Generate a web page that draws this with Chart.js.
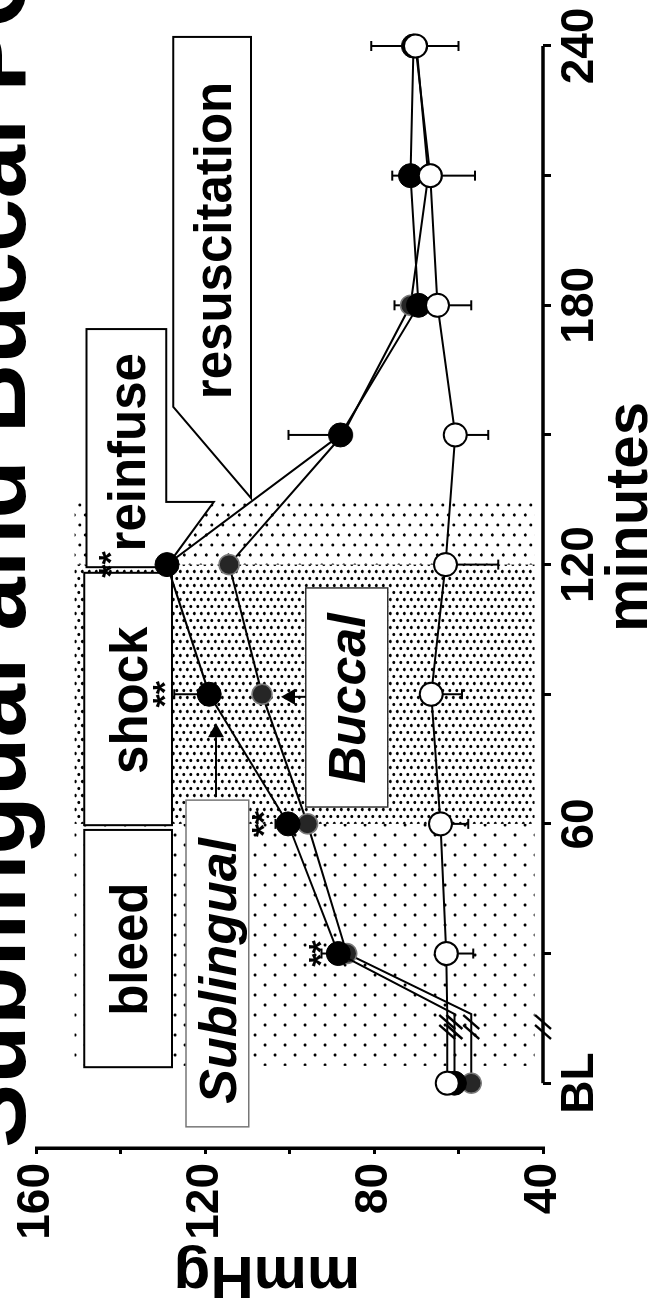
<!DOCTYPE html>
<html>
<head>
<meta charset="utf-8">
<title>Sublingual and Buccal PCO2</title>
<script src="https://cdn.jsdelivr.net/npm/chart.js@4.4.1/dist/chart.umd.min.js"></script>
<style>
  html, body { margin: 0; padding: 0; background: #fff; }
  #pagina { position: relative; width: 654px; height: 1310px; overflow: hidden; }
  /* la figura original está girada 90° a la izquierda */
  #giro { position: absolute; left: 0; top: 0; width: 1310px; height: 654px;
          transform-origin: 0 0; transform: translate(0, 1310px) rotate(-90deg); }
</style>
</head>
<body>
<div id="pagina"><div id="giro"><canvas id="grafico" width="1310" height="654"></canvas></div></div>
<script>
// Minutos de cada medición (0 = basal, "BL")
const minutos = [0, 30, 60, 90, 120, 150, 180, 210, 240];
const tickMinutos = [0, 30, 60, 90, 120, 150, 180, 210, 240];
const tickTextos = ["BL", "", "60", "", "120", "", "180", "", "240"];
const tickMmHg = [40, 60, 80, 100, 120, 140, 160];

// Series (mmHg)
const sublingual = [61, 88.5, 100.4, 119.1, 129.1, 88.0, 69.5, 71.4, 70.7];
const sublingualErr = [0, 4, 3, 8.3, 2, 12.3, 5.7, 4.3, 10];
const bucal = [57, 86.5, 95.8, 106.6, 114.4, 87.5, 71.4, 67.2, 70.0];
const abiertos = [62.7, 62.9, 64.3, 66.5, 63.1, 60.8, 65.0, 66.7, 70.2];
const abiertosErr = [3, 6.4, 6.6, 7.3, 12.5, 7.8, 8.0, 10.6, 10.2];

// Fases del protocolo (minutos)
const fases = ["bleed", "shock", "reinfuse", "resuscitation"];
const faseInicio = [4, 60, 120, 134.5];
const faseFin = [60, 120, 134.5, 240];

// Asteriscos de significancia
const sigMinutos = [30, 60, 90, 120];
const sigNivel = [94.8, 108.3, 131.7, 144.4];

const quiebre = 16;   // el trazo sale vertical desde BL hasta acá
const corteEje = 13;  // marcas "//" del eje cortado

const fuente = "'Liberation Sans', Arial, Helvetica, sans-serif";

// Armar puntos {x, y}, con el vértice del quiebre (mismo valor que BL)
function armar(valores) {
  const pts = valores.map((v, i) => ({ x: minutos[i], y: v }));
  pts.splice(1, 0, { x: quiebre, y: valores[0] });
  return pts;
}
const radio = r => ctx => (ctx.dataIndex === 1 ? 0 : r);

// Tramas de puntos para las fases
function trama(ancho, alto, puntos, r) {
  const t = document.createElement("canvas");
  t.width = ancho;
  t.height = alto;
  const g = t.getContext("2d");
  g.fillStyle = "#000";
  puntos.forEach(([a, b]) => {
    g.beginPath();
    g.arc(a, b, r, 0, Math.PI * 2);
    g.fill();
  });
  return t;
}
const tramas = [
  trama(20, 20, [[5, 5], [15, 15]], 1.6),          // bleed
  trama(14, 7, [[3.5, 1.75], [10.5, 5.25]], 1.6),  // shock
  trama(20, 11, [[5, 2.75], [15, 8.25]], 1.5)      // reinfuse
];
const sombraMmHg = [42, 151];

// Cajas de texto (en unidades de datos: minutos, mmHg)
const cajas = [
  { texto: fases[0], forma: [[3.7, 148.7], [58.6, 148.7], [58.6, 127.9], [3.7, 127.9]], centro: [31, 138.3] },
  { texto: fases[1], forma: [[59.7, 148.7], [118.1, 148.7], [118.1, 127.9], [59.7, 127.9]], centro: [88.6, 138.3] },
  { texto: fases[2], forma: [[119.4, 148.2], [174.5, 148.2], [174.5, 129.3], [134.5, 129.3], [134.5, 118.0], [119.4, 129.3]], centro: [146, 138.7] },
  { texto: fases[3], forma: [[156.5, 127.6], [242.1, 127.6], [242.1, 109.2], [135.4, 109.2]], centro: [195, 118.4] },
  { texto: "Sublingual", forma: [[-10.1, 124.6], [65.5, 124.6], [65.5, 109.7], [-10.1, 109.7]], centro: [26, 117.1], italica: true, borde: "#777" },
  { texto: "Buccal", forma: [[63.9, 96.2], [114.6, 96.2], [114.6, 76.8], [63.9, 76.8]], centro: [89, 86.5], italica: true, borde: "#333" }
];
const flechas = [
  { desde: [66.2, 117.5], hasta: [83.3, 117.5] },
  { desde: [89.4, 96.2], hasta: [89.4, 102.1] }
];

function flecha(ctx, x1, y1, x2, y2) {
  const ang = Math.atan2(y2 - y1, x2 - x1);
  const largo = 14, ancho = 8;
  const bx = x2 - largo * Math.cos(ang), by = y2 - largo * Math.sin(ang);
  ctx.beginPath();
  ctx.moveTo(x1, y1);
  ctx.lineTo(bx, by);
  ctx.stroke();
  ctx.beginPath();
  ctx.moveTo(x2, y2);
  ctx.lineTo(bx + ancho * Math.sin(ang), by - ancho * Math.cos(ang));
  ctx.lineTo(bx - ancho * Math.sin(ang), by + ancho * Math.cos(ang));
  ctx.closePath();
  ctx.fill();
}

function corte(ctx, cx, cy) {
  [-5, 5].forEach(d => {
    ctx.beginPath();
    ctx.moveTo(cx + d + 7, cy - 8);
    ctx.lineTo(cx + d - 7, cy + 8);
    ctx.stroke();
  });
}

const dibujos = {
  id: "dibujos",
  beforeDatasetsDraw(chart) {
    const { ctx, scales: { x, y } } = chart;
    const X = m => x.getPixelForValue(m);
    const Y = v => y.getPixelForValue(v);
    ctx.save();

    // Fases sombreadas
    tramas.forEach((t, i) => {
      ctx.fillStyle = ctx.createPattern(t, "repeat");
      const x1 = X(faseInicio[i]), x2 = X(faseFin[i]);
      const y1 = Y(sombraMmHg[1]), y2 = Y(sombraMmHg[0]);
      ctx.fillRect(x1, y1, x2 - x1, y2 - y1);
    });

    // Cajas con texto
    cajas.forEach(c => {
      ctx.beginPath();
      c.forma.forEach(([m, v], i) => (i ? ctx.lineTo(X(m), Y(v)) : ctx.moveTo(X(m), Y(v))));
      ctx.closePath();
      ctx.fillStyle = "#fff";
      ctx.fill();
      ctx.strokeStyle = c.borde || "#000";
      ctx.lineWidth = c.italica ? 1.5 : 2;
      ctx.lineJoin = "miter";
      ctx.stroke();
      const tam = c.italica ? 52 : 51;
      ctx.font = `${c.italica ? "italic " : ""}bold ${tam}px ${fuente}`;
      ctx.fillStyle = "#000";
      ctx.textAlign = "center";
      ctx.textBaseline = "alphabetic";
      ctx.fillText(c.texto, X(c.centro[0]), Y(c.centro[1]) + 0.36 * tam);
    });

    // Flechas
    ctx.strokeStyle = "#000";
    ctx.fillStyle = "#000";
    ctx.lineWidth = 2;
    flechas.forEach(f => flecha(ctx, X(f.desde[0]), Y(f.desde[1]), X(f.hasta[0]), Y(f.hasta[1])));

    // Asteriscos
    ctx.font = `bold 34px ${fuente}`;
    ctx.textAlign = "center";
    sigMinutos.forEach((m, i) => ctx.fillText("**", X(m), Y(sigNivel[i]) + 0.585 * 34));

    // Barras de error (sublingual hacia arriba, abiertos hacia abajo)
    ctx.lineWidth = 2;
    const barra = (m, v, e) => {
      if (!e) return;
      const px = X(m), y1 = Y(v), y2 = Y(v + e);
      ctx.beginPath();
      ctx.moveTo(px, y1);
      ctx.lineTo(px, y2);
      ctx.moveTo(px - 5, y2);
      ctx.lineTo(px + 5, y2);
      ctx.stroke();
    };
    minutos.forEach((m, i) => {
      barra(m, sublingual[i], sublingualErr[i]);
      barra(m, abiertos[i], -abiertosErr[i]);
    });
    ctx.restore();
  },
  afterDatasetsDraw(chart) {
    const { ctx, scales: { x, y } } = chart;
    ctx.save();
    ctx.strokeStyle = "#000";
    ctx.lineWidth = 2.5;
    [abiertos, sublingual, bucal].forEach(s => corte(ctx, x.getPixelForValue(corteEje), y.getPixelForValue(s[0])));
    ctx.restore();
  },
  afterDraw(chart) {
    const { ctx, chartArea, scales: { x } } = chart;
    ctx.save();
    // Eje de minutos, sólo de BL a 240
    ctx.strokeStyle = "#000";
    ctx.lineWidth = 3.5;
    ctx.beginPath();
    ctx.moveTo(x.getPixelForValue(0), chartArea.bottom);
    ctx.lineTo(x.getPixelForValue(240), chartArea.bottom);
    ctx.stroke();
    ctx.lineWidth = 2.5;
    corte(ctx, x.getPixelForValue(corteEje), chartArea.bottom);

    // Títulos
    ctx.fillStyle = "#000";
    ctx.textBaseline = "alphabetic";
    ctx.font = `bold 96px ${fuente}`;
    ctx.textAlign = "left";
    ctx.fillText("Sublingual and Buccal PCO\u2082", chartArea.left, 25);

    ctx.font = `bold 60px ${fuente}`;
    ctx.textAlign = "center";
    ctx.fillText("minutes", 793, 647);

    ctx.translate(53, 267);
    ctx.rotate(-Math.PI / 2);
    ctx.fillText("mmHg", 0, 0);
    ctx.restore();
  }
};

const fuenteTicks = { family: fuente, size: 46, weight: "bold" };

new Chart(document.getElementById("grafico"), {
  type: "line",
  data: {
    datasets: [
      {
        label: "abiertos",
        data: armar(abiertos),
        borderColor: "#000",
        borderWidth: 2,
        pointRadius: radio(11.5),
        pointBackgroundColor: "#fff",
        pointBorderColor: "#000",
        pointBorderWidth: 2,
        clip: false
      },
      {
        label: "Sublingual",
        data: armar(sublingual),
        borderColor: "#000",
        borderWidth: 2,
        pointRadius: radio(12),
        pointBackgroundColor: "#000",
        pointBorderColor: "#000",
        pointBorderWidth: 1,
        clip: false
      },
      {
        label: "Buccal",
        data: armar(bucal),
        borderColor: "#000",
        borderWidth: 2,
        pointRadius: radio(10),
        pointBackgroundColor: "#262626",
        pointBorderColor: "#7a7a7a",
        pointBorderWidth: 1.5,
        clip: false
      }
    ]
  },
  options: {
    responsive: false,
    animation: false,
    events: [],
    layout: { padding: { left: 0, top: 35, right: 46, bottom: 0 } },
    plugins: { legend: { display: false }, tooltip: { enabled: false } },
    elements: { line: { tension: 0 } },
    scales: {
      x: {
        type: "linear",
        min: -15,
        max: 240,
        afterFit: s => { s.height = 111; },
        afterBuildTicks: s => { s.ticks = tickMinutos.map(v => ({ value: v })); },
        border: { display: false },
        grid: { drawOnChartArea: false, tickLength: 8, color: "#000", lineWidth: 3 },
        ticks: {
          autoSkip: false,
          maxRotation: 0,
          padding: 2,
          color: "#000",
          font: fuenteTicks,
          callback: v => tickTextos[tickMinutos.indexOf(v)] ?? ""
        }
      },
      y: {
        min: 40,
        max: 160,
        afterFit: s => { s.width = 162; },
        afterBuildTicks: s => { s.ticks = tickMmHg.map(v => ({ value: v })); },
        border: { display: true, color: "#000", width: 3.5 },
        grid: { drawOnChartArea: false, tickLength: 6, color: "#000", lineWidth: 3 },
        ticks: {
          padding: 9,
          color: "#000",
          font: fuenteTicks,
          callback: v => (v % 40 === 0 ? v : "")
        }
      }
    }
  },
  plugins: [dibujos]
});
</script>
</body>
</html>
